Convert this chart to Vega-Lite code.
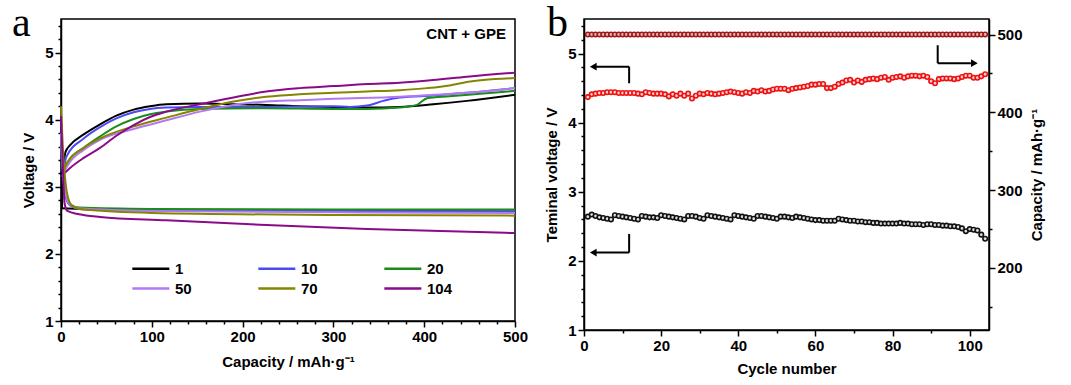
{
  "$schema": "https://vega.github.io/schema/vega-lite/v6.json",
  "padding": {"left": 11, "top": 0, "right": 4, "bottom": 2},
  "spacing": 14,
  "config": {
    "font": "Liberation Sans",
    "view": {"stroke": "black", "strokeWidth": 1.5},
    "axis": {"domainColor": "black", "domainWidth": 1.5, "tickColor": "black", "tickWidth": 1.5, "labelFont": "Liberation Sans", "labelFontWeight": "bold", "labelFontSize": 15, "labelColor": "black", "titleFont": "Liberation Sans", "titleFontWeight": "bold", "titleFontSize": 15, "titleColor": "black", "grid": false, "labelOverlap": false, "labelFlush": false}
  },
  "hconcat": [
    {
      "width": 454,
      "height": 302,
      "title": {"text": "a", "font": "Liberation Serif", "fontSize": 42, "fontWeight": "normal", "color": "black", "anchor": "start", "frame": "group", "dx": -49, "offset": -26},
      "data": {"values": [
        {"k":"1","p":"c","x":1,"v":2.68},{"k":"1","p":"c","x":3,"v":3.3},{"k":"1","p":"c","x":5,"v":3.52},{"k":"1","p":"c","x":10,"v":3.62},{"k":"1","p":"c","x":25,"v":3.78},{"k":"1","p":"c","x":43,"v":3.93},{"k":"1","p":"c","x":61,"v":4.06},{"k":"1","p":"c","x":80,"v":4.15},{"k":"1","p":"c","x":98,"v":4.2},{"k":"1","p":"c","x":116,"v":4.23},{"k":"1","p":"c","x":153,"v":4.24},{"k":"1","p":"c","x":190,"v":4.23},{"k":"1","p":"c","x":226,"v":4.22},{"k":"1","p":"c","x":263,"v":4.2},{"k":"1","p":"c","x":300,"v":4.19},{"k":"1","p":"c","x":337,"v":4.18},{"k":"1","p":"c","x":373,"v":4.19},{"k":"1","p":"c","x":410,"v":4.23},{"k":"1","p":"c","x":447,"v":4.28},{"k":"1","p":"c","x":500,"v":4.37},
        {"k":"10","p":"c","x":2,"v":3.1},{"k":"10","p":"c","x":4,"v":3.33},{"k":"10","p":"c","x":6,"v":3.45},{"k":"10","p":"c","x":25,"v":3.72},{"k":"10","p":"c","x":43,"v":3.89},{"k":"10","p":"c","x":61,"v":4.02},{"k":"10","p":"c","x":80,"v":4.11},{"k":"10","p":"c","x":98,"v":4.16},{"k":"10","p":"c","x":116,"v":4.18},{"k":"10","p":"c","x":153,"v":4.19},{"k":"10","p":"c","x":226,"v":4.19},{"k":"10","p":"c","x":300,"v":4.2},{"k":"10","p":"c","x":318,"v":4.19},{"k":"10","p":"c","x":337,"v":4.21},{"k":"10","p":"c","x":355,"v":4.28},{"k":"10","p":"c","x":373,"v":4.33},{"k":"10","p":"c","x":410,"v":4.36},{"k":"10","p":"c","x":447,"v":4.4},{"k":"10","p":"c","x":500,"v":4.47},
        {"k":"20","p":"c","x":2,"v":3.1},{"k":"20","p":"c","x":4,"v":3.25},{"k":"20","p":"c","x":8,"v":3.38},{"k":"20","p":"c","x":25,"v":3.58},{"k":"20","p":"c","x":43,"v":3.75},{"k":"20","p":"c","x":61,"v":3.9},{"k":"20","p":"c","x":80,"v":4.01},{"k":"20","p":"c","x":98,"v":4.08},{"k":"20","p":"c","x":116,"v":4.12},{"k":"20","p":"c","x":153,"v":4.16},{"k":"20","p":"c","x":226,"v":4.17},{"k":"20","p":"c","x":300,"v":4.16},{"k":"20","p":"c","x":337,"v":4.16},{"k":"20","p":"c","x":373,"v":4.18},{"k":"20","p":"c","x":392,"v":4.22},{"k":"20","p":"c","x":403,"v":4.32},{"k":"20","p":"c","x":428,"v":4.35},{"k":"20","p":"c","x":465,"v":4.39},{"k":"20","p":"c","x":500,"v":4.43},
        {"k":"50","p":"c","x":2,"v":3.1},{"k":"50","p":"c","x":4,"v":3.22},{"k":"50","p":"c","x":8,"v":3.33},{"k":"50","p":"c","x":25,"v":3.55},{"k":"50","p":"c","x":43,"v":3.7},{"k":"50","p":"c","x":80,"v":3.86},{"k":"50","p":"c","x":116,"v":3.99},{"k":"50","p":"c","x":153,"v":4.12},{"k":"50","p":"c","x":190,"v":4.22},{"k":"50","p":"c","x":226,"v":4.27},{"k":"50","p":"c","x":263,"v":4.29},{"k":"50","p":"c","x":300,"v":4.31},{"k":"50","p":"c","x":373,"v":4.34},{"k":"50","p":"c","x":410,"v":4.37},{"k":"50","p":"c","x":447,"v":4.4},{"k":"50","p":"c","x":500,"v":4.47},
        {"k":"70","p":"c","x":2,"v":3.15},{"k":"70","p":"c","x":4,"v":3.28},{"k":"70","p":"c","x":8,"v":3.38},{"k":"70","p":"c","x":25,"v":3.58},{"k":"70","p":"c","x":43,"v":3.72},{"k":"70","p":"c","x":80,"v":3.9},{"k":"70","p":"c","x":116,"v":4.03},{"k":"70","p":"c","x":153,"v":4.16},{"k":"70","p":"c","x":190,"v":4.27},{"k":"70","p":"c","x":226,"v":4.34},{"k":"70","p":"c","x":263,"v":4.38},{"k":"70","p":"c","x":300,"v":4.4},{"k":"70","p":"c","x":337,"v":4.42},{"k":"70","p":"c","x":373,"v":4.44},{"k":"70","p":"c","x":403,"v":4.47},{"k":"70","p":"c","x":428,"v":4.51},{"k":"70","p":"c","x":447,"v":4.56},{"k":"70","p":"c","x":465,"v":4.59},{"k":"70","p":"c","x":500,"v":4.62},
        {"k":"104","p":"c","x":0,"v":3.15},{"k":"104","p":"c","x":10,"v":3.28},{"k":"104","p":"c","x":25,"v":3.43},{"k":"104","p":"c","x":43,"v":3.58},{"k":"104","p":"c","x":61,"v":3.76},{"k":"104","p":"c","x":80,"v":3.92},{"k":"104","p":"c","x":98,"v":4.04},{"k":"104","p":"c","x":116,"v":4.12},{"k":"104","p":"c","x":153,"v":4.23},{"k":"104","p":"c","x":190,"v":4.33},{"k":"104","p":"c","x":226,"v":4.42},{"k":"104","p":"c","x":263,"v":4.47},{"k":"104","p":"c","x":300,"v":4.5},{"k":"104","p":"c","x":337,"v":4.53},{"k":"104","p":"c","x":373,"v":4.55},{"k":"104","p":"c","x":410,"v":4.59},{"k":"104","p":"c","x":447,"v":4.64},{"k":"104","p":"c","x":500,"v":4.7},
        {"k":"1","p":"d","x":0,"v":2.68},{"k":"1","p":"d","x":50,"v":2.66},{"k":"1","p":"d","x":200,"v":2.65},{"k":"1","p":"d","x":350,"v":2.64},{"k":"1","p":"d","x":500,"v":2.63},
        {"k":"10","p":"d","x":0,"v":3.6},{"k":"10","p":"d","x":2,"v":3.2},{"k":"10","p":"d","x":5,"v":2.85},{"k":"10","p":"d","x":10,"v":2.72},{"k":"10","p":"d","x":20,"v":2.67},{"k":"10","p":"d","x":100,"v":2.65},{"k":"10","p":"d","x":300,"v":2.64},{"k":"10","p":"d","x":500,"v":2.63},
        {"k":"20","p":"d","x":0,"v":3.7},{"k":"20","p":"d","x":2,"v":3.25},{"k":"20","p":"d","x":5,"v":2.9},{"k":"20","p":"d","x":10,"v":2.74},{"k":"20","p":"d","x":20,"v":2.69},{"k":"20","p":"d","x":100,"v":2.67},{"k":"20","p":"d","x":300,"v":2.66},{"k":"20","p":"d","x":500,"v":2.66},
        {"k":"50","p":"d","x":0,"v":3.8},{"k":"50","p":"d","x":2,"v":3.3},{"k":"50","p":"d","x":5,"v":2.9},{"k":"50","p":"d","x":10,"v":2.73},{"k":"50","p":"d","x":20,"v":2.68},{"k":"50","p":"d","x":100,"v":2.64},{"k":"50","p":"d","x":300,"v":2.62},{"k":"50","p":"d","x":500,"v":2.61},
        {"k":"70","p":"d","x":0,"v":4.2},{"k":"70","p":"d","x":2,"v":3.6},{"k":"70","p":"d","x":4,"v":3.2},{"k":"70","p":"d","x":7,"v":2.88},{"k":"70","p":"d","x":12,"v":2.72},{"k":"70","p":"d","x":25,"v":2.66},{"k":"70","p":"d","x":100,"v":2.61},{"k":"70","p":"d","x":300,"v":2.58},{"k":"70","p":"d","x":500,"v":2.57},
        {"k":"104","p":"d","x":0,"v":4.05},{"k":"104","p":"d","x":2,"v":3.3},{"k":"104","p":"d","x":4,"v":2.75},{"k":"104","p":"d","x":7,"v":2.64},{"k":"104","p":"d","x":20,"v":2.59},{"k":"104","p":"d","x":43,"v":2.55},{"k":"104","p":"d","x":116,"v":2.5},{"k":"104","p":"d","x":226,"v":2.43},{"k":"104","p":"d","x":337,"v":2.37},{"k":"104","p":"d","x":500,"v":2.31}
      ]},
      "layer": [
        {
          "mark": {"type": "line", "strokeWidth": 2, "interpolate": "monotone"},
          "encoding": {
            "x": {"field": "x", "type": "quantitative", "scale": {"domain": [0, 500], "nice": false},
              "axis": {"title": "Capacity / mAh·g⁻¹", "titlePadding": 10, "values": [0,20,40,60,80,100,120,140,160,180,200,220,240,260,280,300,320,340,360,380,400,420,440,460,480,500], "labelExpr": "datum.value % 100 ? '' : format(datum.value, 'd')", "tickSize": {"condition": {"test": "datum.value % 100", "value": 3}, "value": 6}}},
            "y": {"field": "v", "type": "quantitative", "scale": {"domain": [1, 5.5], "nice": false},
              "axis": {"title": "Voltage / V", "titlePadding": 8, "values": [1,1.2,1.4,1.6,1.8,2,2.2,2.4,2.6,2.8,3,3.2,3.4,3.6,3.8,4,4.2,4.4,4.6,4.8,5,5.2,5.4], "labelExpr": "datum.value % 1 ? '' : format(datum.value, 'd')", "tickSize": {"condition": {"test": "datum.value % 1", "value": 3}, "value": 6}}},
            "color": {"field": "k", "type": "nominal",
              "scale": {"domain": ["1","10","20","50","70","104"], "range": ["#000000","#4b4bf5","#1a8c1a","#b27af2","#858500","#8a0a8a"]},
              "legend": {"title": null, "orient": "none", "legendX": 70, "legendY": 242, "columns": 3, "direction": "horizontal", "symbolType": "M-1,0H5", "symbolSize": 152, "symbolStrokeWidth": 2.5, "labelFont": "Liberation Sans", "labelFontSize": 15, "labelFontWeight": "bold", "labelColor": "black", "labelOffset": 29, "columnPadding": 61, "rowPadding": 4}},
            "detail": {"field": "p"}
          }
        },
        {
          "data": {"values": [{}]},
          "mark": {"type": "text", "text": "CNT + GPE", "font": "Liberation Sans", "fontWeight": "bold", "fontSize": 15, "align": "right", "baseline": "middle", "color": "black"},
          "encoding": {
            "x": {"datum": 490, "type": "quantitative",
              "axis": {"title": "Capacity / mAh·g⁻¹", "titlePadding": 10, "values": [0,20,40,60,80,100,120,140,160,180,200,220,240,260,280,300,320,340,360,380,400,420,440,460,480,500], "labelExpr": "datum.value % 100 ? '' : format(datum.value, 'd')", "tickSize": {"condition": {"test": "datum.value % 100", "value": 3}, "value": 6}}},
            "y": {"datum": 5.27, "type": "quantitative",
              "axis": {"title": "Voltage / V", "titlePadding": 8, "values": [1,1.2,1.4,1.6,1.8,2,2.2,2.4,2.6,2.8,3,3.2,3.4,3.6,3.8,4,4.2,4.4,4.6,4.8,5,5.2,5.4], "labelExpr": "datum.value % 1 ? '' : format(datum.value, 'd')", "tickSize": {"condition": {"test": "datum.value % 1", "value": 3}, "value": 6}}}
          }
        }
      ]
    },
    {
      "width": 405,
      "height": 311,
      "title": {"text": "b", "font": "Liberation Serif", "fontSize": 42, "fontWeight": "normal", "color": "black", "anchor": "start", "frame": "group", "dx": -37, "offset": -26},
      "data": {"values": [
        {"c":1,"ch":4.37,"dis":2.64,"cap":500},{"c":2,"ch":4.41,"dis":2.67,"cap":500},{"c":3,"ch":4.42,"dis":2.65,"cap":500},{"c":4,"ch":4.43,"dis":2.63,"cap":500},{"c":5,"ch":4.43,"dis":2.62,"cap":500},{"c":6,"ch":4.44,"dis":2.61,"cap":500},{"c":7,"ch":4.44,"dis":2.6,"cap":500},{"c":8,"ch":4.44,"dis":2.66,"cap":500},{"c":9,"ch":4.43,"dis":2.65,"cap":500},{"c":10,"ch":4.43,"dis":2.64,"cap":500},
        {"c":11,"ch":4.43,"dis":2.63,"cap":500},{"c":12,"ch":4.43,"dis":2.62,"cap":500},{"c":13,"ch":4.43,"dis":2.61,"cap":500},{"c":14,"ch":4.42,"dis":2.6,"cap":500},{"c":15,"ch":4.41,"dis":2.65,"cap":500},{"c":16,"ch":4.44,"dis":2.64,"cap":500},{"c":17,"ch":4.43,"dis":2.63,"cap":500},{"c":18,"ch":4.42,"dis":2.63,"cap":500},{"c":19,"ch":4.42,"dis":2.62,"cap":500},{"c":20,"ch":4.42,"dis":2.66,"cap":500},
        {"c":21,"ch":4.41,"dis":2.65,"cap":500},{"c":22,"ch":4.38,"dis":2.64,"cap":500},{"c":23,"ch":4.41,"dis":2.63,"cap":500},{"c":24,"ch":4.39,"dis":2.62,"cap":500},{"c":25,"ch":4.42,"dis":2.61,"cap":500},{"c":26,"ch":4.39,"dis":2.6,"cap":500},{"c":27,"ch":4.42,"dis":2.65,"cap":500},{"c":28,"ch":4.35,"dis":2.65,"cap":500},{"c":29,"ch":4.39,"dis":2.64,"cap":500},{"c":30,"ch":4.42,"dis":2.62,"cap":500},
        {"c":31,"ch":4.41,"dis":2.61,"cap":500},{"c":32,"ch":4.43,"dis":2.66,"cap":500},{"c":33,"ch":4.42,"dis":2.65,"cap":500},{"c":34,"ch":4.41,"dis":2.64,"cap":500},{"c":35,"ch":4.42,"dis":2.63,"cap":500},{"c":36,"ch":4.43,"dis":2.62,"cap":500},{"c":37,"ch":4.44,"dis":2.61,"cap":500},{"c":38,"ch":4.45,"dis":2.6,"cap":500},{"c":39,"ch":4.44,"dis":2.66,"cap":500},{"c":40,"ch":4.43,"dis":2.65,"cap":500},
        {"c":41,"ch":4.42,"dis":2.64,"cap":500},{"c":42,"ch":4.44,"dis":2.63,"cap":500},{"c":43,"ch":4.43,"dis":2.62,"cap":500},{"c":44,"ch":4.46,"dis":2.61,"cap":500},{"c":45,"ch":4.45,"dis":2.65,"cap":500},{"c":46,"ch":4.47,"dis":2.65,"cap":500},{"c":47,"ch":4.45,"dis":2.64,"cap":500},{"c":48,"ch":4.46,"dis":2.63,"cap":500},{"c":49,"ch":4.48,"dis":2.62,"cap":500},{"c":50,"ch":4.49,"dis":2.61,"cap":500},
        {"c":51,"ch":4.49,"dis":2.64,"cap":500},{"c":52,"ch":4.49,"dis":2.64,"cap":500},{"c":53,"ch":4.47,"dis":2.63,"cap":500},{"c":54,"ch":4.49,"dis":2.62,"cap":500},{"c":55,"ch":4.5,"dis":2.64,"cap":500},{"c":56,"ch":4.51,"dis":2.63,"cap":500},{"c":57,"ch":4.52,"dis":2.62,"cap":500},{"c":58,"ch":4.53,"dis":2.61,"cap":500},{"c":59,"ch":4.55,"dis":2.6,"cap":500},{"c":60,"ch":4.55,"dis":2.59,"cap":500},
        {"c":61,"ch":4.56,"dis":2.59,"cap":500},{"c":62,"ch":4.56,"dis":2.58,"cap":500},{"c":63,"ch":4.5,"dis":2.58,"cap":500},{"c":64,"ch":4.5,"dis":2.58,"cap":500},{"c":65,"ch":4.52,"dis":2.58,"cap":500},{"c":66,"ch":4.56,"dis":2.61,"cap":500},{"c":67,"ch":4.58,"dis":2.6,"cap":500},{"c":68,"ch":4.61,"dis":2.59,"cap":500},{"c":69,"ch":4.62,"dis":2.58,"cap":500},{"c":70,"ch":4.58,"dis":2.58,"cap":500},
        {"c":71,"ch":4.61,"dis":2.57,"cap":500},{"c":72,"ch":4.59,"dis":2.57,"cap":500},{"c":73,"ch":4.62,"dis":2.56,"cap":500},{"c":74,"ch":4.63,"dis":2.56,"cap":500},{"c":75,"ch":4.64,"dis":2.55,"cap":500},{"c":76,"ch":4.63,"dis":2.55,"cap":500},{"c":77,"ch":4.65,"dis":2.54,"cap":500},{"c":78,"ch":4.66,"dis":2.54,"cap":500},{"c":79,"ch":4.62,"dis":2.54,"cap":500},{"c":80,"ch":4.65,"dis":2.54,"cap":500},
        {"c":81,"ch":4.66,"dis":2.54,"cap":500},{"c":82,"ch":4.67,"dis":2.55,"cap":500},{"c":83,"ch":4.65,"dis":2.54,"cap":500},{"c":84,"ch":4.67,"dis":2.54,"cap":500},{"c":85,"ch":4.68,"dis":2.53,"cap":500},{"c":86,"ch":4.68,"dis":2.53,"cap":500},{"c":87,"ch":4.67,"dis":2.53,"cap":500},{"c":88,"ch":4.68,"dis":2.52,"cap":500},{"c":89,"ch":4.66,"dis":2.53,"cap":500},{"c":90,"ch":4.6,"dis":2.53,"cap":500},
        {"c":91,"ch":4.57,"dis":2.52,"cap":500},{"c":92,"ch":4.63,"dis":2.52,"cap":500},{"c":93,"ch":4.64,"dis":2.51,"cap":500},{"c":94,"ch":4.64,"dis":2.51,"cap":500},{"c":95,"ch":4.64,"dis":2.5,"cap":500},{"c":96,"ch":4.63,"dis":2.5,"cap":500},{"c":97,"ch":4.64,"dis":2.49,"cap":500},{"c":98,"ch":4.66,"dis":2.47,"cap":500},{"c":99,"ch":4.68,"dis":2.43,"cap":500},{"c":100,"ch":4.68,"dis":2.46,"cap":500},
        {"c":101,"ch":4.65,"dis":2.45,"cap":500},{"c":102,"ch":4.65,"dis":2.44,"cap":500},{"c":103,"ch":4.67,"dis":2.38,"cap":500},{"c":104,"ch":4.7,"dis":2.32,"cap":500}
      ]},
      "encoding": {
        "x": {"field": "c", "type": "quantitative", "scale": {"domain": [0, 105], "nice": false},
          "axis": {"title": "Cycle number", "titlePadding": 8, "values": [0,10,20,30,40,50,60,70,80,90,100], "labelExpr": "datum.value % 20 ? '' : format(datum.value, 'd')", "tickSize": {"condition": {"test": "datum.value % 20", "value": 3}, "value": 6}}}
      },
      "layer": [
        {
          "encoding": {
            "y": {"field": "v", "type": "quantitative", "scale": {"domain": [1, 5.5], "nice": false},
              "axis": {"title": "Teminal voltage / V", "titlePadding": 8, "values": [1,1.2,1.4,1.6,1.8,2,2.2,2.4,2.6,2.8,3,3.2,3.4,3.6,3.8,4,4.2,4.4,4.6,4.8,5,5.2,5.4], "labelExpr": "datum.value % 1 ? '' : format(datum.value, 'd')", "tickSize": {"condition": {"test": "datum.value % 1", "value": 3}, "value": 6}}}
          },
          "layer": [
            {
              "transform": [{"fold": ["ch", "dis"], "as": ["series", "v"]}],
              "mark": {"type": "point", "shape": "circle", "size": 20, "strokeWidth": 1.6, "filled": true, "opacity": 1, "fillOpacity": 1},
              "encoding": {
                "stroke": {"field": "series", "type": "nominal", "scale": {"domain": ["ch", "dis"], "range": ["#ee1111", "#111111"]}, "legend": null},
                "fill": {"field": "series", "type": "nominal", "scale": {"domain": ["ch", "dis"], "range": ["#ffcfcf", "#dcdcdc"]}, "legend": null}
              }
            },
            {
              "data": {"values": [
                {"c":2.6,"v":4.81,"c2":11.7,"v2":4.81},{"c":11.7,"v":4.81,"c2":11.7,"v2":4.57},
                {"c":2.6,"v":2.12,"c2":11.7,"v2":2.12},{"c":11.7,"v":2.39,"c2":11.7,"v2":2.12},
                {"c":91.7,"v":5.12,"c2":91.7,"v2":4.86},{"c":91.7,"v":4.86,"c2":100.3,"v2":4.86}
              ]},
              "mark": {"type": "rule", "strokeWidth": 2, "color": "black"},
              "encoding": {"x2": {"field": "c2"}, "y2": {"field": "v2"}}
            },
            {
              "data": {"values": [
                {"c":2.4,"v":4.81,"s":"triangle-left"},{"c":2.4,"v":2.12,"s":"triangle-left"},{"c":101.2,"v":4.86,"s":"triangle-right"}
              ]},
              "mark": {"type": "point", "filled": true, "color": "black", "size": 60, "opacity": 1},
              "encoding": {"shape": {"field": "s", "type": "nominal", "scale": null}}
            }
          ]
        },
        {
          "mark": {"type": "point", "shape": "circle", "size": 20, "strokeWidth": 1.6, "filled": true, "fill": "#e9b3b3", "stroke": "#9e1a1a", "opacity": 1, "fillOpacity": 1},
          "encoding": {
            "y": {"field": "cap", "type": "quantitative", "scale": {"domain": [120, 520], "nice": false},
              "axis": {"orient": "right", "title": "Capacity / mAh·g⁻¹", "titleAngle": 270, "titlePadding": 22, "values": [150,200,250,300,350,400,450,500], "labelExpr": "datum.value % 100 ? '' : format(datum.value, 'd')", "tickSize": {"condition": {"test": "datum.value % 100", "value": 3}, "value": 6}}}
          }
        }
      ],
      "resolve": {"scale": {"y": "independent"}}
    }
  ]
}
